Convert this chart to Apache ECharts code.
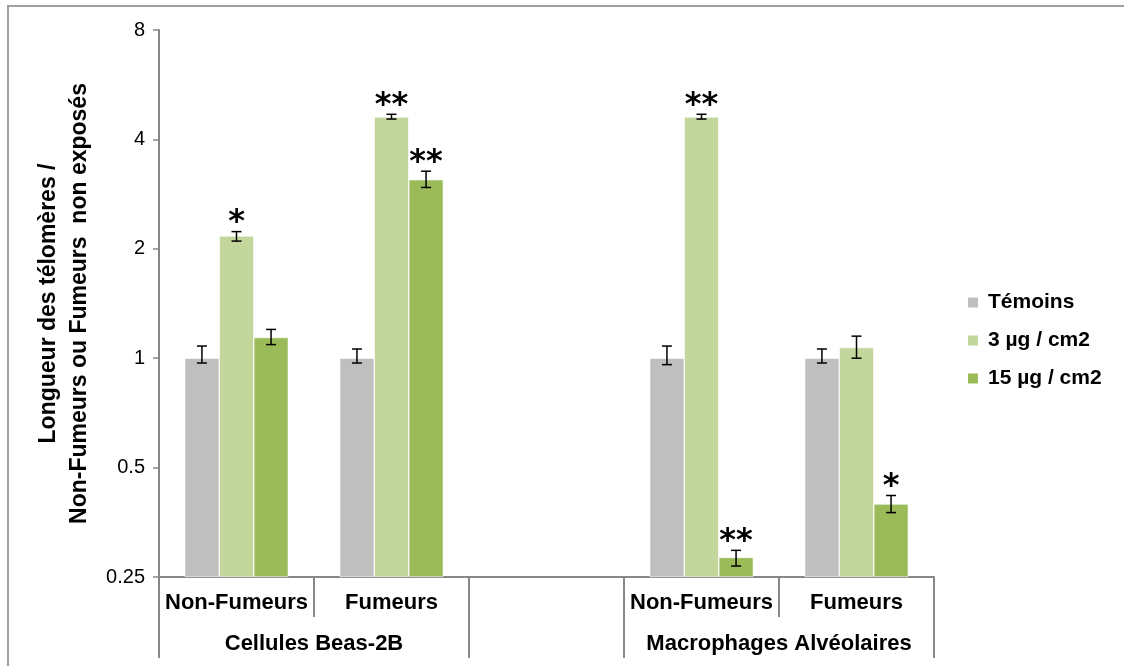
<!DOCTYPE html>
<html>
<head>
<meta charset="utf-8">
<script src="https://cdn.jsdelivr.net/npm/echarts@6/dist/echarts.min.js"></script>
<style>
  html, body { margin: 0; padding: 0; background: #fff; }
  #wrap { position: relative; width: 1124px; height: 666px; overflow: hidden; }
  #chart { position: absolute; left: 0; top: 0; width: 1124px; height: 666px; }
  #frame { position: absolute; left: 7px; top: 5px; width: 1200px; height: 800px;
           border-top: 2px solid #a0a0a0; border-left: 2px solid #a0a0a0; pointer-events: none; }
</style>
</head>
<body>
<div id="wrap"><div id="chart"></div><div id="frame"></div></div>
<script>
// ---- data ----
const categories = ['Non-Fumeurs', 'Fumeurs', '', 'Non-Fumeurs', 'Fumeurs'];
const groupNames = ['Cellules Beas-2B', 'Macrophages Alvéolaires'];
const groupStart = [0, 3];
const groupSize = [2, 2];
const seriesNames = ['Témoins', '3 µg / cm2', '15 µg / cm2'];
const yTicks = [0.25, 0.5, 1, 2, 4, 8];

const temoins = [1.0, 1.0, null, 1.0, 1.0];
const dose3 = [2.17, 4.61, null, 4.61, 1.07];
const dose15 = [1.14, 3.10, null, 0.283, 0.397];

const temoinsLow = [0.97, 0.97, null, 0.96, 0.97];
const temoinsHigh = [1.08, 1.06, null, 1.08, 1.06];
const dose3Low = [2.10, 4.55, null, 4.55, 1.00];
const dose3High = [2.23, 4.69, null, 4.69, 1.15];
const dose15Low = [1.09, 2.95, null, 0.268, 0.376];
const dose15High = [1.20, 3.27, null, 0.296, 0.419];

const sigTemoins = ['', '', '', '', ''];
const sig3 = ['*', '**', '', '**', ''];
const sig15 = ['', '**', '', '**', '*'];

// ---- styles ----
const colors = ['#BFBFBF', '#C3D69B', '#9BBB59'];
const BAR_PCT = 0.223;
const axisColor = '#878787';
const FONT = 'Liberation Sans, Arial, sans-serif';

const values = [temoins, dose3, dose15];
const lows = [temoinsLow, dose3Low, dose15Low];
const highs = [temoinsHigh, dose3High, dose15High];
const sigs = [sigTemoins, sig3, sig15];

function errorSeries(k) {
  const rows = [];
  const rowSig = [];
  values[k].forEach((v, i) => {
    if (v == null) return;
    rows.push([i, lows[k][i], highs[k][i]]);
    rowSig.push(sigs[k][i]);
  });
  return {
    type: 'custom',
    name: seriesNames[k] + ' err',
    xAxisIndex: 0, yAxisIndex: 0,
    data: rows,
    encode: { x: 0, y: [1, 2] },
    z: 5,
    silent: true,
    renderItem: function (params, api) {
      const idx = api.value(0);
      const hi = api.coord([idx, api.value(2)]);
      const lo = api.coord([idx, api.value(1)]);
      const band = api.size([1, 0])[0];
      const bw = band * BAR_PCT;
      const x = hi[0] + (k - 1) * bw;
      const cap = 5;
      const stroke = { stroke: '#000', lineWidth: 1.5 };
      const children = [
        { type: 'line', shape: { x1: x, y1: hi[1], x2: x, y2: lo[1] }, style: stroke },
        { type: 'line', shape: { x1: x - cap, y1: hi[1], x2: x + cap, y2: hi[1] }, style: stroke },
        { type: 'line', shape: { x1: x - cap, y1: lo[1], x2: x + cap, y2: lo[1] }, style: stroke }
      ];
      const s = rowSig[params.dataIndex];
      if (s) {
        children.push({
          type: 'text',
          style: {
            text: s, x: x, y: hi[1] + 7,
            align: 'center', verticalAlign: 'bottom',
            fontSize: 32, fontWeight: 'bold', fontFamily: 'DejaVu Sans', fill: '#000'
          }
        });
      }
      return { type: 'group', children: children };
    }
  };
}

const barSeries = seriesNames.map((name, k) => ({
  type: 'bar',
  name: name,
  xAxisIndex: 0, yAxisIndex: 0,
  data: values[k],
  barWidth: (BAR_PCT * 100) + '%',
  barGap: '0%',
  itemStyle: { color: colors[k], borderColor: '#fff', borderWidth: 0.6 },
  emphasis: { disabled: true }
}));

const groupTickVals = [];
const groupLabelVals = [];
groupStart.forEach((s, g) => {
  groupTickVals.push(s, s + groupSize[g]);
  groupLabelVals.push(s + groupSize[g] / 2);
});

const chart = echarts.init(document.getElementById('chart'), null, { renderer: 'canvas' });
chart.setOption({
  animation: false,
  color: colors,
  grid: { left: 159, right: 190, top: 30, bottom: 89, containLabel: false },
  legend: {
    orient: 'vertical',
    left: 961, top: 286,
    itemWidth: 12, itemHeight: 12,
    itemGap: 15,
    icon: 'rect',
    data: seriesNames,
    textStyle: { fontFamily: FONT, fontWeight: 'bold', fontSize: 21, color: '#000', lineHeight: 23, padding: [0, 0, 0, 4] }
  },
  xAxis: [
    {
      type: 'category',
      data: categories,
      position: 'bottom',
      axisLine: { show: true, lineStyle: { color: axisColor, width: 2 } },
      axisTick: { show: true, interval: 0, length: 40, lineStyle: { color: axisColor, width: 2 } },
      axisLabel: { interval: 0, margin: 15, fontFamily: FONT, fontWeight: 'bold', fontSize: 22, color: '#000' },
      splitLine: { show: false }
    },
    {
      type: 'value',
      min: 0, max: categories.length,
      gridIndex: 0,
      position: 'bottom',
      axisLine: { show: false },
      axisTick: { show: true, customValues: groupTickVals, length: 81, lineStyle: { color: axisColor, width: 2 } },
      axisLabel: {
        show: true, customValues: groupLabelVals, margin: 56,
        fontFamily: FONT, fontWeight: 'bold', fontSize: 22, color: '#000',
        formatter: function (v) { const g = groupLabelVals.indexOf(v); return g >= 0 ? groupNames[g] : ''; }
      },
      splitLine: { show: false }
    }
  ],
  yAxis: {
    type: 'log',
    logBase: 2,
    min: yTicks[0], max: yTicks[yTicks.length - 1],
    startValue: yTicks[0],
    name: 'Longueur des télomères /\nNon-Fumeurs ou Fumeurs  non exposés',
    nameLocation: 'middle',
    nameGap: 64,
    nameTextStyle: { fontFamily: FONT, fontWeight: 'bold', fontSize: 23, color: '#000', lineHeight: 31 },
    axisLine: { show: true, lineStyle: { color: axisColor, width: 2 } },
    axisTick: { show: true, length: 6, lineStyle: { color: axisColor, width: 1.5 } },
    axisLabel: { margin: 14, fontFamily: FONT, fontSize: 20, color: '#000',
      formatter: function (v) { return String(Math.round(v * 100) / 100); } },
    splitLine: { show: false },
    minorTick: { show: false }
  },
  series: barSeries.concat([0, 1, 2].map(errorSeries))
});
</script>
</body>
</html>
